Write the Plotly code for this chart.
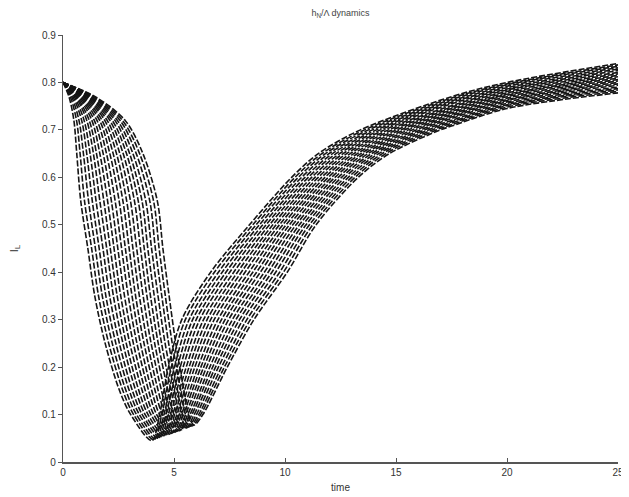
import plotly.graph_objects as go

# ---- data -----------------------------------------------------------------
START_TIME = 0.0
START_VALUE = 0.8

# y-levels crossed by each curve while falling, and the times at which it crosses them
LEVELS_DOWN = [0.77, 0.72, 0.65, 0.55, 0.45, 0.35, 0.25, 0.15, 0.10]
down_times = [
    [0.27, 0.49, 0.62, 0.80, 1.12, 1.43, 1.90, 2.55, 3.05],
    [0.33, 0.61, 0.77, 0.97, 1.29, 1.60, 2.06, 2.70, 3.18],
    [0.39, 0.72, 0.92, 1.15, 1.46, 1.77, 2.22, 2.84, 3.31],
    [0.45, 0.84, 1.07, 1.32, 1.63, 1.93, 2.38, 2.99, 3.44],
    [0.51, 0.95, 1.22, 1.49, 1.80, 2.10, 2.54, 3.13, 3.57],
    [0.57, 1.07, 1.37, 1.66, 1.97, 2.27, 2.70, 3.28, 3.70],
    [0.62, 1.18, 1.51, 1.84, 2.13, 2.44, 2.85, 3.42, 3.83],
    [0.68, 1.30, 1.66, 2.01, 2.30, 2.60, 3.01, 3.57, 3.96],
    [0.74, 1.41, 1.81, 2.18, 2.47, 2.77, 3.17, 3.71, 4.09],
    [0.80, 1.53, 1.96, 2.35, 2.64, 2.94, 3.33, 3.86, 4.22],
    [0.86, 1.65, 2.11, 2.53, 2.81, 3.11, 3.49, 4.00, 4.35],
    [0.92, 1.76, 2.26, 2.70, 2.98, 3.27, 3.65, 4.15, 4.48],
    [0.98, 1.88, 2.41, 2.87, 3.15, 3.44, 3.81, 4.29, 4.61],
    [1.04, 1.99, 2.56, 3.04, 3.32, 3.61, 3.97, 4.44, 4.74],
    [1.10, 2.11, 2.71, 3.22, 3.49, 3.78, 4.13, 4.58, 4.87],
    [1.16, 2.22, 2.86, 3.39, 3.66, 3.94, 4.29, 4.73, 5.00],
    [1.21, 2.34, 3.00, 3.56, 3.82, 4.11, 4.44, 4.87, 5.13],
    [1.27, 2.45, 3.15, 3.73, 3.99, 4.28, 4.60, 5.02, 5.26],
    [1.33, 2.57, 3.30, 3.91, 4.16, 4.45, 4.76, 5.16, 5.39],
    [1.39, 2.68, 3.45, 4.08, 4.33, 4.61, 4.92, 5.31, 5.52],
    [1.45, 2.80, 3.60, 4.25, 4.50, 4.78, 5.08, 5.45, 5.65],
]

# bottom of each curve
min_times = [4.00, 4.10, 4.19, 4.29, 4.38, 4.48, 4.57, 4.67, 4.76, 4.86, 4.95,
             5.05, 5.14, 5.24, 5.33, 5.43, 5.52, 5.62, 5.71, 5.81, 5.90]
min_values = [0.045, 0.047, 0.048, 0.050, 0.052, 0.053, 0.055, 0.057, 0.058, 0.060, 0.062,
              0.063, 0.065, 0.066, 0.068, 0.070, 0.071, 0.073, 0.075, 0.076, 0.078]

# y-levels crossed while recovering, and the times at which each curve crosses them
LEVELS_UP = [0.10, 0.20, 0.30, 0.40, 0.50, 0.60, 0.65, 0.70]
up_times = [
    [4.35, 4.75, 5.35, 6.65, 8.40, 10.30, 11.50, 13.40],
    [4.45, 4.88, 5.51, 6.82, 8.55, 10.45, 11.66, 13.58],
    [4.55, 5.02, 5.68, 7.00, 8.70, 10.60, 11.82, 13.76],
    [4.64, 5.15, 5.84, 7.17, 8.85, 10.75, 11.98, 13.94],
    [4.74, 5.28, 6.00, 7.34, 9.00, 10.90, 12.14, 14.12],
    [4.84, 5.41, 6.16, 7.51, 9.15, 11.05, 12.30, 14.30],
    [4.94, 5.55, 6.33, 7.69, 9.30, 11.20, 12.46, 14.48],
    [5.03, 5.68, 6.49, 7.86, 9.45, 11.35, 12.62, 14.66],
    [5.13, 5.81, 6.65, 8.03, 9.60, 11.50, 12.78, 14.84],
    [5.23, 5.94, 6.81, 8.20, 9.75, 11.65, 12.94, 15.02],
    [5.33, 6.08, 6.98, 8.38, 9.90, 11.80, 13.10, 15.20],
    [5.42, 6.21, 7.14, 8.55, 10.05, 11.95, 13.26, 15.38],
    [5.52, 6.34, 7.30, 8.72, 10.20, 12.10, 13.42, 15.56],
    [5.62, 6.47, 7.46, 8.89, 10.35, 12.25, 13.58, 15.74],
    [5.72, 6.61, 7.63, 9.07, 10.50, 12.40, 13.74, 15.92],
    [5.81, 6.74, 7.79, 9.24, 10.65, 12.55, 13.90, 16.10],
    [5.91, 6.87, 7.95, 9.41, 10.80, 12.70, 14.06, 16.28],
    [6.01, 7.00, 8.11, 9.58, 10.95, 12.85, 14.22, 16.46],
    [6.11, 7.14, 8.28, 9.76, 11.10, 13.00, 14.38, 16.64],
    [6.20, 7.27, 8.44, 9.93, 11.25, 13.15, 14.54, 16.82],
    [6.30, 7.40, 8.60, 10.10, 11.40, 13.30, 14.70, 17.00],
]

# values of each curve at the late times
TAIL_TIMES = [17.5, 20, 25]
tail_values = [
    [0.770, 0.800, 0.840],
    [0.767, 0.797, 0.837],
    [0.764, 0.795, 0.834],
    [0.761, 0.792, 0.831],
    [0.758, 0.789, 0.828],
    [0.755, 0.786, 0.825],
    [0.751, 0.784, 0.821],
    [0.748, 0.781, 0.818],
    [0.745, 0.778, 0.815],
    [0.742, 0.775, 0.812],
    [0.739, 0.773, 0.809],
    [0.736, 0.770, 0.806],
    [0.733, 0.767, 0.803],
    [0.730, 0.764, 0.800],
    [0.727, 0.762, 0.797],
    [0.724, 0.759, 0.794],
    [0.720, 0.756, 0.790],
    [0.717, 0.753, 0.787],
    [0.714, 0.751, 0.784],
    [0.711, 0.748, 0.781],
    [0.708, 0.745, 0.778],
]

X_TICKS = [0, 5, 10, 15, 20, 25]
Y_TICKS = [0, 0.1, 0.2, 0.3, 0.4, 0.5, 0.6, 0.7, 0.8, 0.9]
Y_TICK_TEXT = ["0", "0.1", "0.2", "0.3", "0.4", "0.5", "0.6", "0.7", "0.8", "0.9"]

TITLE = "h<sub>N</sub>/Λ dynamics"
X_LABEL = "time"
Y_LABEL = "I<sub>L</sub>"

# ---- figure ------------------------------------------------------------------
fig = go.Figure()
for k in range(len(down_times)):
    xs = [START_TIME] + down_times[k] + [min_times[k]] + up_times[k] + TAIL_TIMES
    ys = [START_VALUE] + LEVELS_DOWN + [min_values[k]] + LEVELS_UP + tail_values[k]
    fig.add_trace(go.Scatter(
        x=xs, y=ys, mode="lines",
        line=dict(color="#151515", width=1.6, dash="6px,2px", shape="spline", smoothing=0.9),
        showlegend=False, hoverinfo="skip",
    ))

font_family = "Liberation Sans, Arial, sans-serif"
# the page body adds an 8px offset; the figure is sized so the plot lands where the reference's does
fig.update_layout(
    width=621, height=489,
    margin=dict(l=51, r=5, t=27, b=33),
    paper_bgcolor="white", plot_bgcolor="white",
    font=dict(family=font_family, size=10, color="#333"),
    title=dict(text=TITLE, x=0.5, xref="paper", y=0.997, yref="container",
               xanchor="center", yanchor="top", font=dict(size=9, color="#444")),
    showlegend=False,
)
fig.update_xaxes(
    range=[0, 25], tickvals=X_TICKS, ticktext=[str(v) for v in X_TICKS],
    showgrid=False, zeroline=False, showline=True, linecolor="#555", linewidth=1.5,
    ticks="inside", ticklen=4, tickcolor="#555", ticklabeloverflow="allow",
    title=dict(text=X_LABEL, standoff=7, font=dict(size=10, color="#333")),
    tickfont=dict(size=10, color="#333"),
)
fig.update_yaxes(
    range=[0, 0.9], tickvals=Y_TICKS, ticktext=Y_TICK_TEXT,
    showgrid=False, zeroline=False, showline=True, linecolor="#555", linewidth=1.2,
    ticks="outside", ticklen=4, tickcolor="#555",
    title=dict(text=Y_LABEL, standoff=21, font=dict(size=11, color="#333")),
    tickfont=dict(size=10, color="#333"),
)

fig.write_html("out.html")
